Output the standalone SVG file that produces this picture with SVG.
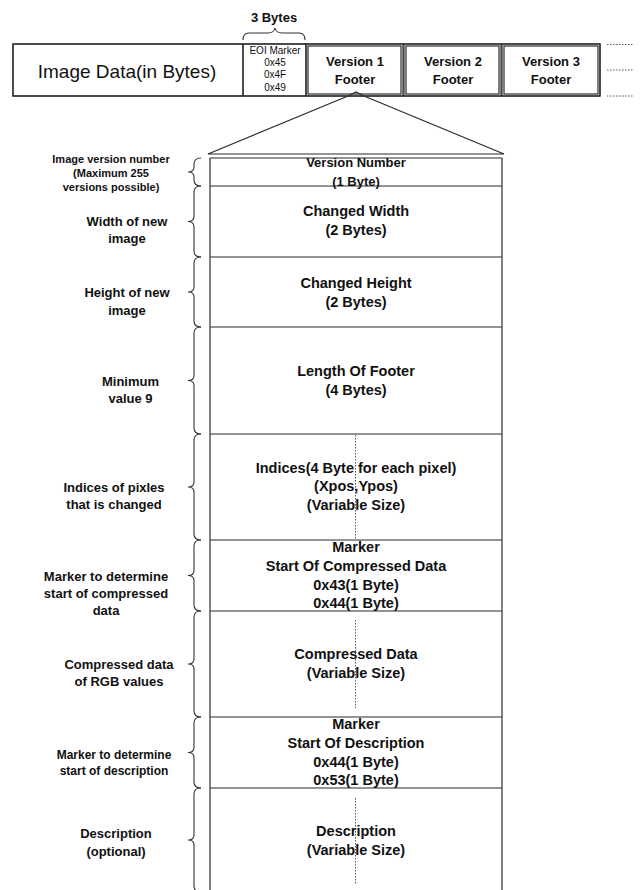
<svg xmlns="http://www.w3.org/2000/svg" width="644" height="890" viewBox="0 0 644 890">
<style>
.ln{fill:none;stroke:#2a2a2a;stroke-width:1.2}
.br{fill:none;stroke:#333;stroke-width:1.1}
.dot{fill:none;stroke:#555;stroke-width:1;stroke-dasharray:1.5 1.5}
.c{font-family:"Liberation Sans",Arial,sans-serif;font-weight:bold;font-size:14.5px;fill:#111;text-anchor:middle}
.l{font-family:"Liberation Sans",Arial,sans-serif;font-weight:bold;font-size:13px;fill:#111;text-anchor:middle}
.t{font-family:"Liberation Sans",Arial,sans-serif;font-weight:bold;font-size:13px;fill:#111;text-anchor:middle}
.e{font-family:"Liberation Sans",Arial,sans-serif;font-size:10px;fill:#111;text-anchor:middle}
</style>
<rect width="644" height="890" fill="#fff"/>

<g id="top-row">
<rect class="ln" x="13" y="44" width="587" height="52"/>
</g>
<g id="image-data">
<rect class="ln" x="13" y="44" width="230" height="52"/>
<text x="127" y="78" style="font-family:'Liberation Sans',Arial,sans-serif;font-size:19px;fill:#111;text-anchor:middle">Image Data(in Bytes)</text>
</g>
<g id="eoi-marker">
<rect class="ln" x="243" y="44" width="63" height="52"/>
<text class="e" x="275" y="54">EOI Marker</text>
<text class="e" x="275" y="66">0x45</text>
<text class="e" x="275" y="78">0x4F</text>
<text class="e" x="275" y="91">0x49</text>
</g>
<g id="three-bytes">
<path class="br" d="M243,40 Q243,33 249,33 L268,33 Q274,33 275,28 Q276,33 282,33 L299,33 Q305,33 305,40"/>
<text class="t" x="274" y="22">3 Bytes</text>
</g>
<g id="version1">
<rect class="ln" x="306" y="44" width="97" height="52"/>
<rect class="ln" x="308" y="46" width="93" height="48"/>
<text class="t" x="355" y="66">Version 1</text>
<text class="t" x="355" y="84">Footer</text>
</g>
<g id="version2">
<rect class="ln" x="404" y="44" width="97" height="52"/>
<rect class="ln" x="406" y="46" width="93" height="48"/>
<text class="t" x="453" y="66">Version 2</text>
<text class="t" x="453" y="84">Footer</text>
</g>
<g id="version3">
<rect class="ln" x="502" y="44" width="98" height="52"/>
<rect class="ln" x="504" y="46" width="94" height="48"/>
<text class="t" x="551" y="66">Version 3</text>
<text class="t" x="551" y="84">Footer</text>
</g>
<g id="continuation">
<line class="dot" x1="607" y1="44.5" x2="634" y2="44.5"/>
<line class="dot" x1="607" y1="70" x2="634" y2="70"/>
<line class="dot" x1="607" y1="96" x2="634" y2="96"/>
</g>

<g id="connectors">
<path class="ln" d="M208,154 L348,96 L356,92 L364,96 L504,154 Z"/>
</g>

<g id="footer-box">
<line class="ln" x1="210" y1="158" x2="502" y2="158"/>
<line class="ln" x1="210" y1="158" x2="210" y2="890"/>
<line class="ln" x1="502" y1="158" x2="502" y2="890"/>
</g>

<g id="version-number">
<line class="ln" x1="210" y1="186" x2="502" y2="186"/>
<text class="c" x="356" y="167" style="font-size:13px">Version Number</text>
<text class="c" x="356" y="186" style="font-size:13px">(1 Byte)</text>
</g>
<g id="changed-width">
<line class="ln" x1="210" y1="257" x2="502" y2="257"/>
<text class="c" x="356" y="216">Changed Width</text>
<text class="c" x="356" y="235">(2 Bytes)</text>
</g>
<g id="changed-height">
<line class="ln" x1="210" y1="327" x2="502" y2="327"/>
<text class="c" x="356" y="287.5">Changed Height</text>
<text class="c" x="356" y="307">(2 Bytes)</text>
</g>
<g id="length-of-footer">
<line class="ln" x1="210" y1="434" x2="502" y2="434"/>
<text class="c" x="356" y="376">Length Of Footer</text>
<text class="c" x="356" y="395">(4 Bytes)</text>
</g>
<g id="indices">
<line class="ln" x1="210" y1="540" x2="502" y2="540"/>
<line class="dot" x1="355.5" y1="435" x2="355.5" y2="539"/>
<text class="c" x="356" y="472.5">Indices(4 Byte for each pixel)</text>
<text class="c" x="356" y="491">(Xpos,Ypos)</text>
<text class="c" x="356" y="510">(Variable Size)</text>
</g>
<g id="marker-compressed">
<line class="ln" x1="210" y1="611" x2="502" y2="611"/>
<text class="c" x="356" y="552">Marker</text>
<text class="c" x="356" y="571">Start Of Compressed Data</text>
<text class="c" x="356" y="590">0x43(1 Byte)</text>
<text class="c" x="356" y="608">0x44(1 Byte)</text>
</g>
<g id="compressed-data">
<line class="ln" x1="210" y1="717" x2="502" y2="717"/>
<line class="dot" x1="355.5" y1="620" x2="355.5" y2="708"/>
<text class="c" x="356" y="658.5">Compressed Data</text>
<text class="c" x="356" y="678">(Variable Size)</text>
</g>
<g id="marker-description">
<line class="ln" x1="210" y1="788" x2="502" y2="788"/>
<text class="c" x="356" y="728.5">Marker</text>
<text class="c" x="356" y="748">Start Of Description</text>
<text class="c" x="356" y="767">0x44(1 Byte)</text>
<text class="c" x="356" y="785">0x53(1 Byte)</text>
</g>
<g id="description">
<line class="dot" x1="355.5" y1="798" x2="355.5" y2="885"/>
<text class="c" x="356" y="836">Description</text>
<text class="c" x="356" y="855">(Variable Size)</text>
</g>

<g id="braces">
<path class="br" d="M201,158 Q194,158 194,164 L194,167 Q194,172 188,172 Q194,172 194,177 L194,180 Q194,186 201,186"/>
<path class="br" d="M201,186 Q194,186 194,192 L194,216 Q194,221.5 188,221.5 Q194,221.5 194,227 L194,251 Q194,257 201,257"/>
<path class="br" d="M201,257 Q194,257 194,263 L194,287 Q194,292 188,292 Q194,292 194,297 L194,321 Q194,327 201,327"/>
<path class="br" d="M201,327 Q194,327 194,333 L194,375.5 Q194,380.5 188,380.5 Q194,380.5 194,385.5 L194,428 Q194,434 201,434"/>
<path class="br" d="M201,434 Q194,434 194,440 L194,482 Q194,487 188,487 Q194,487 194,492 L194,534 Q194,540 201,540"/>
<path class="br" d="M201,540 Q194,540 194,546 L194,570.5 Q194,575.5 188,575.5 Q194,575.5 194,580.5 L194,605 Q194,611 201,611"/>
<path class="br" d="M201,611 Q194,611 194,617 L194,659 Q194,664 188,664 Q194,664 194,669 L194,711 Q194,717 201,717"/>
<path class="br" d="M201,717 Q194,717 194,723 L194,747.5 Q194,752.5 188,752.5 Q194,752.5 194,757.5 L194,782 Q194,788 201,788"/>
<path class="br" d="M201,788 Q194,788 194,794 L194,835 Q194,840 188,840 Q194,840 194,845 L194,886 Q194,892 201,892"/>
</g>

<g id="labels">
<text class="l" x="111" y="163" style="font-size:11px">Image version number</text>
<text class="l" x="111" y="177" style="font-size:11px">(Maximum 255</text>
<text class="l" x="111" y="191" style="font-size:11px">versions possible)</text>
<text class="l" x="127" y="225.5">Width of new</text>
<text class="l" x="127" y="243">image</text>
<text class="l" x="127" y="296.5">Height of new</text>
<text class="l" x="127" y="315">image</text>
<text class="l" x="130.5" y="385.5">Minimum</text>
<text class="l" x="130.5" y="403">value 9</text>
<text class="l" x="114" y="491.5">Indices of pixles</text>
<text class="l" x="114" y="509">that is changed</text>
<text class="l" x="106" y="580.5">Marker to determine</text>
<text class="l" x="106" y="597.5">start of compressed</text>
<text class="l" x="106" y="614.5">data</text>
<text class="l" x="119" y="668.5">Compressed data</text>
<text class="l" x="119" y="686">of RGB values</text>
<text class="l" x="114" y="758.5" style="font-size:12px">Marker to determine</text>
<text class="l" x="114" y="774.5" style="font-size:12px">start of description</text>
<text class="l" x="116" y="837.5">Description</text>
<text class="l" x="116" y="855.5">(optional)</text>
</g>
</svg>
